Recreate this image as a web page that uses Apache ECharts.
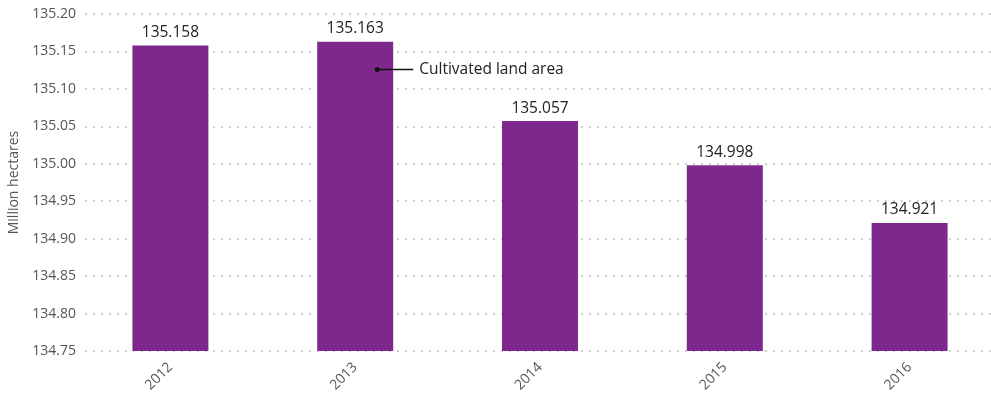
<!DOCTYPE html>
<html>
<head>
<meta charset="utf-8">
<script src="https://cdn.jsdelivr.net/npm/echarts@6/dist/echarts.min.js"></script>
<style>
html,body{margin:0;padding:0;background:#fff;}
#c{width:991px;height:400px;}
</style>
</head>
<body>
<div id="c"></div>
<script>
var categories = ['2012', '2013', '2014', '2015', '2016'];
var areaValues = [135.158, 135.163, 135.057, 134.998, 134.921];
var seriesName = 'Cultivated land area';
var yAxisTitle = 'Million hectares';
var annotationAnchor = ['2013', 135.126];

var FONT = '"Open Sans", "Noto Sans", sans-serif';
var chart = echarts.init(document.getElementById('c'), null, {renderer: 'canvas'});
var option = {
  animation: false,
  backgroundColor: '#fff',
  grid: [
    {left: 78, top: 14, width: 924, bottom: 49, containLabel: false, outerBoundsMode: 'none'},
    {left: 85, top: 14, right: 0, bottom: 49, containLabel: false, outerBoundsMode: 'none'}
  ],
  xAxis: [
    {
      type: 'category', gridIndex: 0, data: categories,
      axisLine: {show: false}, axisTick: {show: false},
      axisLabel: {rotate: 45, margin: 14, color: '#555', fontSize: 14, fontFamily: FONT}
    },
    {type: 'value', gridIndex: 1, show: false}
  ],
  yAxis: [
    {
      type: 'value', gridIndex: 0, min: 134.75, max: 135.20, interval: 0.05,
      show: false, splitLine: {show: false}
    },
    {
      type: 'value', gridIndex: 1, min: 134.75, max: 135.20, interval: 0.05,
      name: yAxisTitle, nameLocation: 'middle', nameGap: 63,
      nameTextStyle: {color: '#555', fontSize: 14, fontFamily: FONT},
      axisLine: {show: false}, axisTick: {show: false},
      axisLabel: {margin: 9, color: '#555', fontSize: 14, fontFamily: FONT,
        formatter: function (v) { return v.toFixed(2); }},
      splitLine: {show: true, lineStyle: {color: '#cfcfcf', width: 2, type: [2, 6]}}
    }
  ],
  series: [{
    name: seriesName,
    type: 'bar',
    xAxisIndex: 0, yAxisIndex: 0,
    data: areaValues,
    barWidth: 76,
    itemStyle: {color: '#7e288e'},
    label: {
      show: true, position: 'top', distance: 5,
      color: '#222', fontSize: 15.5, fontFamily: FONT,
      formatter: function (p) { return p.value.toFixed(3); }
    }
  }]
};
chart.setOption(option);

var p = chart.convertToPixel({xAxisIndex: 0, yAxisIndex: 0}, annotationAnchor);
var dx = p[0] + 22, dy = Math.round(p[1]) + 0.5;
chart.setOption({
  graphic: [
    {type: 'circle', shape: {cx: dx, cy: dy, r: 2.5}, style: {fill: '#111'}, z: 100},
    {type: 'line', shape: {x1: dx, y1: dy, x2: dx + 36, y2: dy}, style: {stroke: '#111', lineWidth: 1.5}, z: 100},
    {type: 'text', x: dx + 42, y: dy, style: {text: seriesName, fill: '#222', font: '15.5px ' + FONT, textVerticalAlign: 'middle', verticalAlign: 'middle'}, z: 100}
  ]
});
</script>
</body>
</html>
